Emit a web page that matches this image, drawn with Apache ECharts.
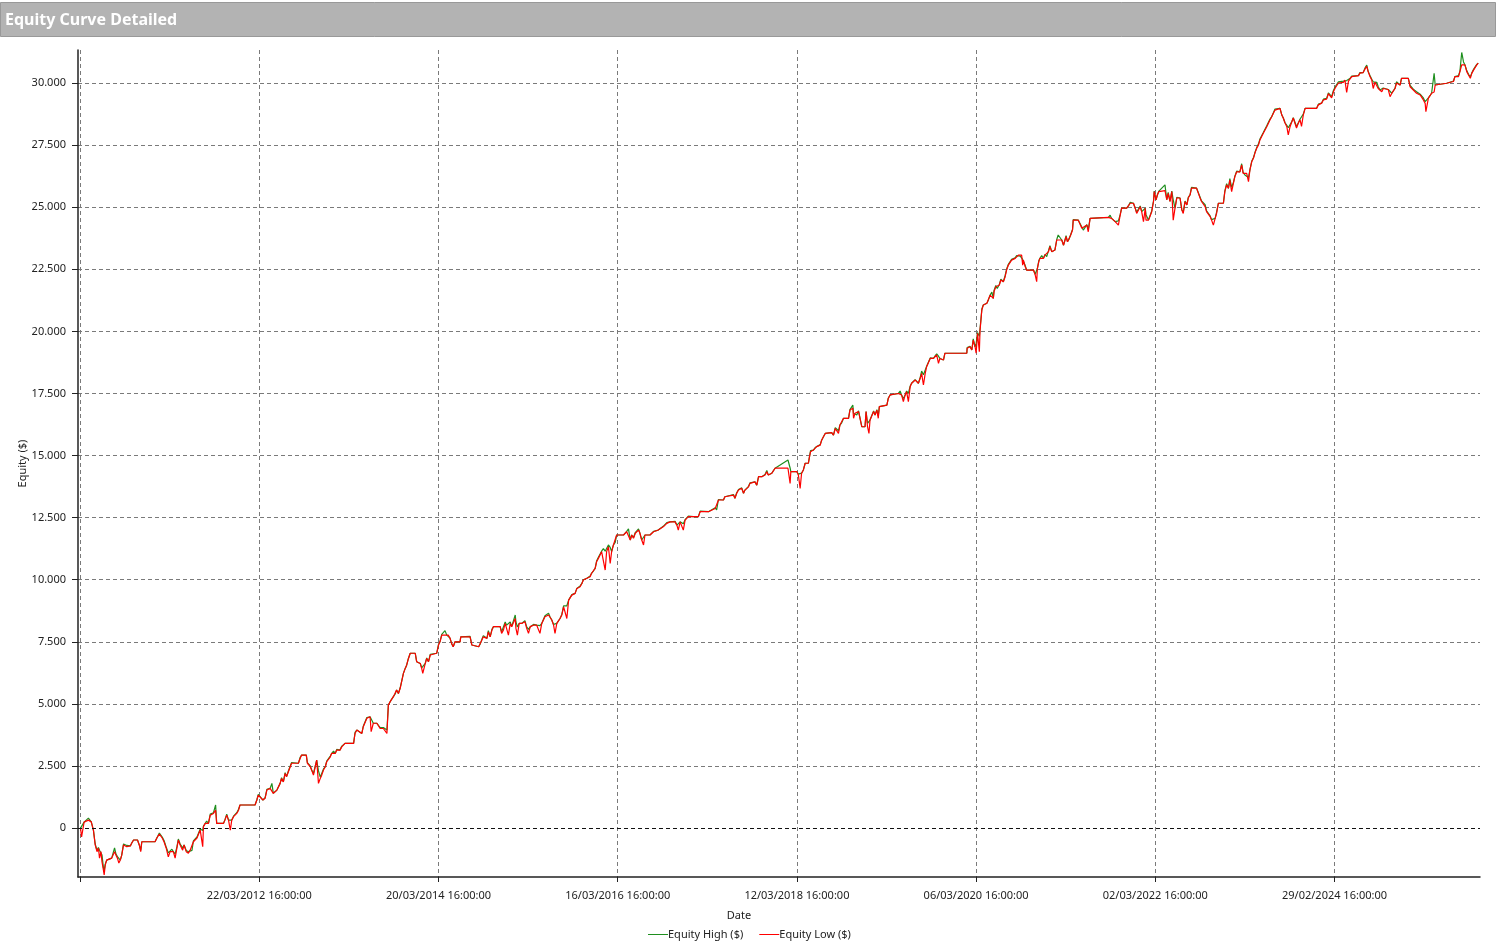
<!DOCTYPE html>
<html>
<head>
<meta charset="utf-8">
<script src="https://cdn.jsdelivr.net/npm/echarts@6/dist/echarts.min.js"></script>
<style>
html,body{margin:0;padding:0;background:#fff;}
#chart{width:1497px;height:946px;}
</style>
</head>
<body>
<div id="chart"></div>
<script>
// ---- data ----
const chartTitle = 'Equity Curve Detailed';
const xAxisName = 'Date';
const yAxisName = 'Equity ($)';
const seriesNames = ['Equity High ($)', 'Equity Low ($)'];
// x tick positions (bar index) and their date labels
const xTickValues = [0, 500, 1000, 1500, 2000, 2500, 3000, 3500];
const xTickLabels = ['', '22/03/2012 16:00:00', '20/03/2014 16:00:00', '16/03/2016 16:00:00',
  '12/03/2018 16:00:00', '06/03/2020 16:00:00', '02/03/2022 16:00:00', '29/02/2024 16:00:00'];
const yTickValues = [0, 2500, 5000, 7500, 10000, 12500, 15000, 17500, 20000, 22500, 25000, 27500, 30000];
// [bar index, equity high ($), equity low ($)]
const equityRows = [
[1,0,0],[4,-40,-360],[11,240,240],[23,400,320],[31,250,250],[37,-80,-80],[42,-640,-680],[47,-900,-950],[51,-780,-800],[54,-890,-1210],
[58,-950,-950],[61,-1090,-1360],[65,-1600,-1690],[67,-1700,-1890],[70,-1450,-1490],[74,-1290,-1290],[88,-1210,-1210],[96,-800,-950],[100,-1050,-1090],[104,-1150,-1210],
[108,-1200,-1410],[112,-1290,-1290],[116,-1090,-1090],[121,-640,-680],[126,-560,-600],[130,-700,-750],[135,-640,-680],[140,-720,-720],[144,-600,-600],[149,-480,-480],
[160,-480,-480],[165,-680,-680],[169,-900,-950],[172,-550,-550],[209,-550,-550],[214,-400,-400],[221,-200,-240],[225,-120,-200],[229,-360,-400],[234,-500,-550],
[240,-760,-800],[246,-1000,-1160],[251,-950,-950],[256,-850,-890],[260,-950,-950],[265,-1050,-1210],[270,-760,-800],[274,-440,-480],[279,-640,-680],[284,-700,-750],
[286,-800,-890],[290,-680,-680],[296,-900,-950],[302,-950,-1010],[307,-890,-890],[312,-900,-950],[316,-520,-550],[321,-550,-550],[326,-360,-400],[330,-300,-350],
[335,-40,-80],[340,-120,-150],[342,-100,-750],[344,80,50],[349,190,190],[353,280,250],[358,190,190],[363,560,520],[372,620,590],[378,930,720],
[381,190,190],[400,190,190],[404,340,320],[409,560,520],[414,320,320],[419,300,-80],[423,320,320],[428,480,460],[432,520,520],[437,620,590],
[442,760,720],[446,930,930],[488,930,930],[493,1130,1130],[497,1360,1330],[502,1330,1330],[510,1130,1130],[516,1220,1200],[521,1560,1530],[530,1600,1600],
[535,1800,1610],[539,1400,1400],[544,1360,1330],[549,1530,1530],[553,1500,1460],[558,1800,1800],[562,2030,2000],[567,1860,1860],[572,2230,2200],[576,2070,2070],
[581,2300,2270],[586,2340,2340],[590,2640,2610],[609,2610,2610],[614,2850,2810],[618,2940,2940],[631,2940,2940],[634,2640,2610],[642,2500,2470],[646,2340,2340],
[651,2200,2130],[656,2500,2470],[660,2740,2740],[665,2300,1800],[670,2050,2000],[674,2130,2130],[679,2380,2340],[684,2470,2470],[688,2700,2670],[693,2740,2740],
[698,2900,2870],[702,3010,3010],[707,3100,3070],[712,3010,3010],[716,3170,3140],[721,3210,3210],[725,3140,3140],[730,3300,3270],[735,3340,3340],[739,3410,3410],
[763,3410,3410],[767,3850,3810],[772,3950,3950],[786,3810,3810],[790,4100,4080],[795,4080,4080],[800,4450,4420],[809,4480,4480],[812,4550,3880],[818,4220,4220],
[828,4220,4220],[832,4150,4150],[837,4050,4010],[842,4080,4080],[846,4050,4010],[851,4080,4080],[856,3950,3810],[860,4950,4950],[865,5090,5090],[869,5150,5150],
[874,5290,5290],[879,5400,5360],[883,5560,5560],[888,5420,5420],[893,5650,5630],[897,5690,5690],[902,6230,6230],[907,6430,6430],[911,6560,6560],[916,6830,6830],
[921,7040,7040],[935,7040,7040],[939,6700,6700],[944,6630,6630],[949,6630,6630],[953,6450,6430],[956,6500,6230],[963,6630,6630],[967,6850,6830],[972,6700,6700],
[977,7000,6970],[981,7040,7040],[995,7040,7040],[1000,7400,7370],[1004,7500,7500],[1009,7800,7770],[1013,7880,7840],[1018,7950,7770],[1023,7770,7770],[1027,7770,7770],
[1032,7650,7650],[1037,7410,7410],[1041,7300,7300],[1046,7500,7500],[1060,7500,7500],[1062,7700,7700],[1088,7720,7700],[1093,7370,7370],[1112,7300,7300],[1116,7400,7370],
[1121,7600,7570],[1125,7750,7700],[1130,7800,7770],[1135,7640,7640],[1139,7950,7900],[1144,7700,7700],[1149,8000,7970],[1153,8110,8110],[1172,8110,8110],[1176,7900,7840],
[1181,7970,7970],[1186,8300,8240],[1190,8170,8170],[1195,8150,7770],[1200,8300,8240],[1204,8110,8110],[1214,8580,8440],[1216,8300,8040],[1220,8100,7770],[1225,8240,8240],
[1232,8240,8240],[1241,8350,8310],[1246,8100,8040],[1251,8000,7840],[1256,8110,8110],[1260,8040,8040],[1265,8200,8170],[1274,8170,8170],[1283,8150,7840],[1288,8240,8240],
[1293,8310,8310],[1297,8550,8510],[1307,8650,8580],[1311,8510,8510],[1316,8380,8380],[1321,8200,8170],[1325,8150,7840],[1330,8240,8240],[1335,8310,8310],[1339,8440,8440],
[1344,8600,8580],[1349,8950,8910],[1353,8980,8980],[1358,8950,8440],[1363,9180,9180],[1367,9250,9250],[1372,9400,9380],[1381,9450,9450],[1386,9650,9650],[1395,9750,9720],
[1400,9850,9850],[1404,10000,9990],[1414,10060,10060],[1423,10150,10120],[1427,10260,10260],[1432,10350,10320],[1437,10460,10460],[1441,10750,10720],[1446,10900,10860],[1451,10930,10930],
[1455,11150,11130],[1460,11250,11190],[1465,11150,10390],[1469,11130,11130],[1474,11400,11330],[1479,11300,10660],[1483,11130,11130],[1488,11400,11400],[1493,11500,11460],[1497,11800,11800],
[1516,11800,11800],[1525,11950,11930],[1530,12050,12000],[1535,11600,11600],[1539,11800,11800],[1544,11700,11670],[1549,11900,11870],[1558,12050,12000],[1562,11870,11870],[1567,11600,11600],
[1572,11600,11400],[1576,11800,11800],[1590,11800,11800],[1600,11950,11930],[1613,12000,12000],[1627,12150,12130],[1637,12300,12270],[1646,12330,12330],[1660,12350,12330],[1665,12200,12200],
[1669,12250,12000],[1674,12330,12330],[1679,12270,12270],[1683,12250,12000],[1688,12420,12400],[1697,12560,12540],[1711,12540,12540],[1716,12470,12470],[1725,12540,12540],[1730,12760,12740],
[1753,12740,12740],[1758,12810,12810],[1772,12900,12870],[1776,12810,12810],[1781,13230,13210],[1795,13210,13210],[1799,13340,13340],[1823,13430,13410],[1827,13280,13280],[1832,13500,13480],
[1837,13630,13610],[1846,13700,13680],[1851,13480,13480],[1855,13610,13610],[1860,13680,13680],[1865,13760,13740],[1869,13900,13880],[1874,13940,13940],[1883,13940,13940],[1888,13810,13810],
[1893,14150,14150],[1902,14150,14150],[1911,14240,14220],[1916,14400,14350],[1920,14220,14220],[1925,14150,14150],[1930,14290,14290],[1939,14490,14490],[1975,14820,14490],[1981,14500,13880],
[1983,14350,14350],[2000,14350,14350],[2004,14250,14220],[2009,14300,13680],[2013,14290,14290],[2018,14420,14420],[2023,14690,14690],[2032,14690,14690],[2035,14950,14950],[2038,15200,15150],
[2046,15220,15220],[2051,15320,15290],[2055,15360,15360],[2065,15440,15420],[2069,15620,15620],[2074,15760,15760],[2079,15890,15890],[2083,15940,15920],[2097,15920,15920],[2102,15820,15820],
[2107,16120,16090],[2111,16160,16160],[2116,16000,15890],[2120,16230,16230],[2125,16320,16300],[2130,16500,16500],[2144,16500,16500],[2148,16850,16830],[2153,16900,16900],[2156,17030,16910],
[2158,16700,16500],[2162,16700,16700],[2167,16630,16630],[2172,16800,16770],[2176,16770,16770],[2181,16160,16160],[2190,16160,16160],[2193,16770,16770],[2197,16300,16160],[2201,16300,15890],
[2204,16430,16430],[2209,16500,16500],[2214,16800,16770],[2218,16630,16630],[2223,16850,16830],[2227,16600,16500],[2230,16970,16970],[2251,17030,17030],[2255,17320,17300],[2260,17440,17440],
[2265,17500,17500],[2283,17500,17500],[2288,17600,17570],[2292,17440,17440],[2297,17300,17170],[2302,17440,17440],[2306,17600,17570],[2311,17500,17170],[2316,17800,17770],[2320,17910,17910],
[2330,18060,18040],[2334,18110,18110],[2339,17910,17910],[2344,18150,18110],[2348,18400,18310],[2353,18250,17840],[2358,18310,18310],[2362,18600,18580],[2372,18930,18910],[2381,18910,18910],
[2385,19000,18980],[2390,19100,19050],[2395,19000,18710],[2399,18910,18910],[2404,18980,18980],[2409,18850,18850],[2413,19120,19120],[2474,19120,19120],[2475,19350,19320],[2483,19400,19380],
[2488,19250,19250],[2492,19700,19650],[2497,19380,19380],[2500,19500,19120],[2502,19520,19520],[2504,19950,19920],[2509,19800,19180],[2511,20100,20050],[2516,20900,20860],[2520,21060,21060],
[2530,21130,21130],[2534,21250,21190],[2539,21460,21460],[2544,21580,21530],[2548,21330,21330],[2550,21650,21600],[2555,21850,21800],[2559,21730,21730],[2565,21900,21870],[2569,22100,22070],
[2576,22000,22000],[2581,22250,22200],[2585,22500,22470],[2590,22700,22670],[2595,22740,22740],[2599,22900,22870],[2604,22900,22900],[2609,22960,22940],[2613,23050,23010],[2618,23100,23070],
[2623,23030,23030],[2627,23100,23070],[2630,22900,22670],[2632,22870,22870],[2637,22650,22600],[2641,22470,22470],[2651,22470,22470],[2655,22540,22540],[2660,22470,22470],[2665,22300,22270],
[2669,22350,22000],[2671,22540,22540],[2675,22850,22810],[2678,22940,22940],[2683,23050,23010],[2688,22940,22940],[2692,23100,23070],[2697,23010,23010],[2702,23250,23210],[2706,23450,23410],
[2711,23210,23210],[2716,23140,23140],[2720,23280,23280],[2725,23700,23680],[2729,23880,23680],[2739,23680,23680],[2744,23470,23470],[2748,23500,23470],[2751,23850,23810],[2755,23610,23610],
[2759,23700,23680],[2764,23900,23880],[2769,24100,24080],[2771,24500,24480],[2785,24480,24480],[2790,24420,24420],[2795,24200,24150],[2799,24080,24080],[2809,24300,24280],[2813,24100,24010],
[2818,24550,24550],[2823,24590,24590],[2869,24590,24590],[2874,24680,24560],[2878,24550,24550],[2883,24480,24480],[2888,24420,24420],[2892,24480,24480],[2897,24450,24280],[2902,24700,24680],
[2906,24960,24960],[2920,24960,24960],[2925,25050,25020],[2930,25200,25160],[2934,25250,25230],[2939,25160,25160],[2944,24960,24960],[2948,24800,24750],[2953,24820,24820],[2958,25050,25020],
[2962,24820,24820],[2967,24850,24420],[2972,24960,24960],[2974,24700,24480],[2981,24480,24480],[2985,24650,24620],[2990,24850,24820],[2995,25250,25230],[2997,25650,25630],[3002,25300,25300],
[3006,25500,25500],[3010,25650,25630],[3027,25900,25670],[3032,25300,25300],[3036,25600,25560],[3041,25230,25230],[3046,25650,25630],[3050,25300,24480],[3055,24960,24960],[3060,25400,25370],
[3069,25370,25370],[3074,24900,24890],[3078,24800,24750],[3083,25250,25230],[3088,25090,25090],[3092,25400,25370],[3097,25500,25500],[3101,25800,25770],[3115,25770,25770],[3120,25730,25700],
[3125,25400,25370],[3129,25250,25230],[3134,25300,25300],[3139,25100,25020],[3143,24850,24820],[3148,24890,24890],[3153,24650,24620],[3157,24500,24480],[3162,24450,24280],[3167,24550,24550],
[3171,24800,24750],[3176,25160,25160],[3190,25160,25160],[3194,25650,25630],[3199,25950,25900],[3204,25760,25760],[3208,26150,26090],[3213,25800,25630],[3218,26000,25970],[3222,26250,26230],
[3227,26450,26420],[3232,26500,26500],[3236,26420,26420],[3241,26750,26700],[3245,26400,26360],[3250,26300,26300],[3255,26360,26360],[3260,26200,26030],[3264,26500,26500],[3269,26850,26830],
[3274,27000,26980],[3278,27200,27180],[3283,27400,27380],[3288,27550,27510],[3292,27750,27710],[3297,27800,27770],[3301,28000,27970],[3306,28050,28040],[3311,28280,28240],[3315,28320,28310],
[3320,28550,28510],[3325,28650,28650],[3329,28680,28650],[3334,28950,28910],[3339,29020,28980],[3348,28980,28980],[3353,28710,28710],[3357,28600,28590],[3362,28400,28390],[3367,28300,28240],
[3371,28200,27910],[3376,28240,28240],[3381,28450,28440],[3385,28600,28590],[3390,28590,28590],[3394,28250,28190],[3399,28390,28390],[3404,28550,28520],[3408,28500,28250],[3413,28750,28720],
[3418,28980,28980],[3450,28980,28980],[3455,29150,29120],[3464,29190,29190],[3469,29350,29320],[3478,29380,29350],[3483,29600,29570],[3488,29650,29600],[3492,29450,29400],[3497,29700,29650],
[3502,29850,29800],[3506,29840,29840],[3511,30050,30000],[3515,30100,30060],[3525,30080,30030],[3529,30150,30120],[3534,30100,29620],[3539,30080,30080],[3543,30180,30160],[3548,30280,30260],
[3567,30300,30300],[3571,30420,30400],[3580,30420,30420],[3585,30600,30560],[3590,30720,30670],[3594,30460,30460],[3599,30300,30260],[3604,30150,30120],[3608,30050,29780],[3613,30030,30030],
[3618,30030,30030],[3622,29850,29780],[3627,29720,29720],[3632,29680,29650],[3636,29800,29780],[3650,29740,29740],[3655,29700,29450],[3660,29590,29590],[3669,29800,29780],[3673,30050,30000],
[3683,29920,29920],[3687,30190,30190],[3706,30190,30190],[3711,29900,29850],[3715,29920,29920],[3720,29750,29720],[3725,29780,29780],[3729,29650,29590],[3734,29680,29650],[3739,29550,29520],
[3743,29500,29450],[3748,29400,29320],[3753,29250,29180],[3755,29200,28850],[3762,29400,29390],[3767,29500,29450],[3771,29600,29590],[3776,29550,29520],[3778,30390,29640],[3781,29920,29920],
[3785,29990,29990],[3813,29990,29990],[3818,30060,30060],[3832,30080,30060],[3836,30260,30260],[3846,30300,30260],[3850,30480,30460],[3855,31230,30730],[3860,30850,30800],[3864,30730,30730],
[3869,30500,30460],[3874,30350,30320],[3879,30250,30190],[3883,30400,30390],[3888,30550,30520],[3893,30600,30590],[3897,30750,30730],[3901,30800,30800]
];

// ---- chart ----
const FONT = 'Noto Sans';
const highData = equityRows.map(r => [r[0], r[1]]);
const lowData = equityRows.map(r => [r[0], r[2]]);
function fmtThousands(v) {
  if (v === 0) return '0';
  const s = Math.abs(v).toFixed(0).replace(/\B(?=(\d{3})+(?!\d))/g, '.');
  return (v < 0 ? '-' : '') + s;
}
const chart = echarts.init(document.getElementById('chart'), null, {renderer: 'canvas'});
const gridLine = {show: true, lineStyle: {color: '#7a7a7a', type: [4, 3], width: 1}};
chart.setOption({
  animation: false,
  backgroundColor: '#ffffff',
  textStyle: {fontFamily: FONT},
  graphic: [
    {type: 'rect', left: 0, top: 2, shape: {width: 1495, height: 34},
     style: {fill: '#b3b3b3', stroke: '#999999', lineWidth: 1}, silent: true},
    {type: 'text', left: 5, top: 12,
     style: {text: chartTitle, fill: '#ffffff', font: 'bold 16px "' + FONT + '"'}, silent: true}
  ],
  grid: {left: 78, right: 17, top: 50, bottom: 69, containLabel: false},
  legend: {
    data: seriesNames,
    left: 643, top: 924,
    itemWidth: 20, itemHeight: 1, itemGap: 16,
    icon: 'rect',
    textStyle: {fontSize: 11, color: '#222', fontFamily: FONT, padding: [0, 0, 0, -5]}
  },
  xAxis: {
    type: 'value',
    min: -6, max: 3906,
    name: xAxisName, nameLocation: 'middle', nameGap: 33, nameMoveOverlap: false,
    nameTextStyle: {fontSize: 11, color: '#222', fontFamily: FONT, padding: [0, 80, 0, 0]},
    axisLine: {show: true, onZero: false, lineStyle: {color: '#222', width: 1.5}},
    axisTick: {show: true, length: 5, lineStyle: {color: '#222'}, customValues: xTickValues},
    axisLabel: {fontSize: 11, color: '#222', margin: 13, fontFamily: FONT, customValues: xTickValues,
      formatter: v => xTickLabels[Math.round(v / 500)] || ''},
    splitLine: gridLine
  },
  yAxis: {
    type: 'value',
    min: -1970, max: 31330,
    name: yAxisName, nameLocation: 'middle', nameGap: 50, nameRotate: 90, nameMoveOverlap: false,
    nameTextStyle: {fontSize: 11, color: '#222', fontFamily: FONT},
    axisLine: {show: true, onZero: false, lineStyle: {color: '#222', width: 1.5}},
    axisTick: {show: true, length: 6, lineStyle: {color: '#222'}, customValues: yTickValues},
    axisLabel: {fontSize: 11, color: '#222', margin: 12, fontFamily: FONT, customValues: yTickValues,
      formatter: v => fmtThousands(v)},
    splitLine: gridLine
  },
  series: [
    {name: seriesNames[0], type: 'line', data: highData, showSymbol: false, symbol: 'none',
     color: '#1f8f1f', lineStyle: {width: 1.2, color: '#1f8f1f'}, z: 2,
     markLine: {silent: true, symbol: 'none', label: {show: false},
       lineStyle: {color: '#111', type: [4, 3], width: 1}, data: [{yAxis: 0}]}},
    {name: seriesNames[1], type: 'line', data: lowData, showSymbol: false, symbol: 'none',
     color: '#ff0000', lineStyle: {width: 1.2, color: '#ff0000'}, z: 3}
  ]
});
</script>
</body>
</html>
